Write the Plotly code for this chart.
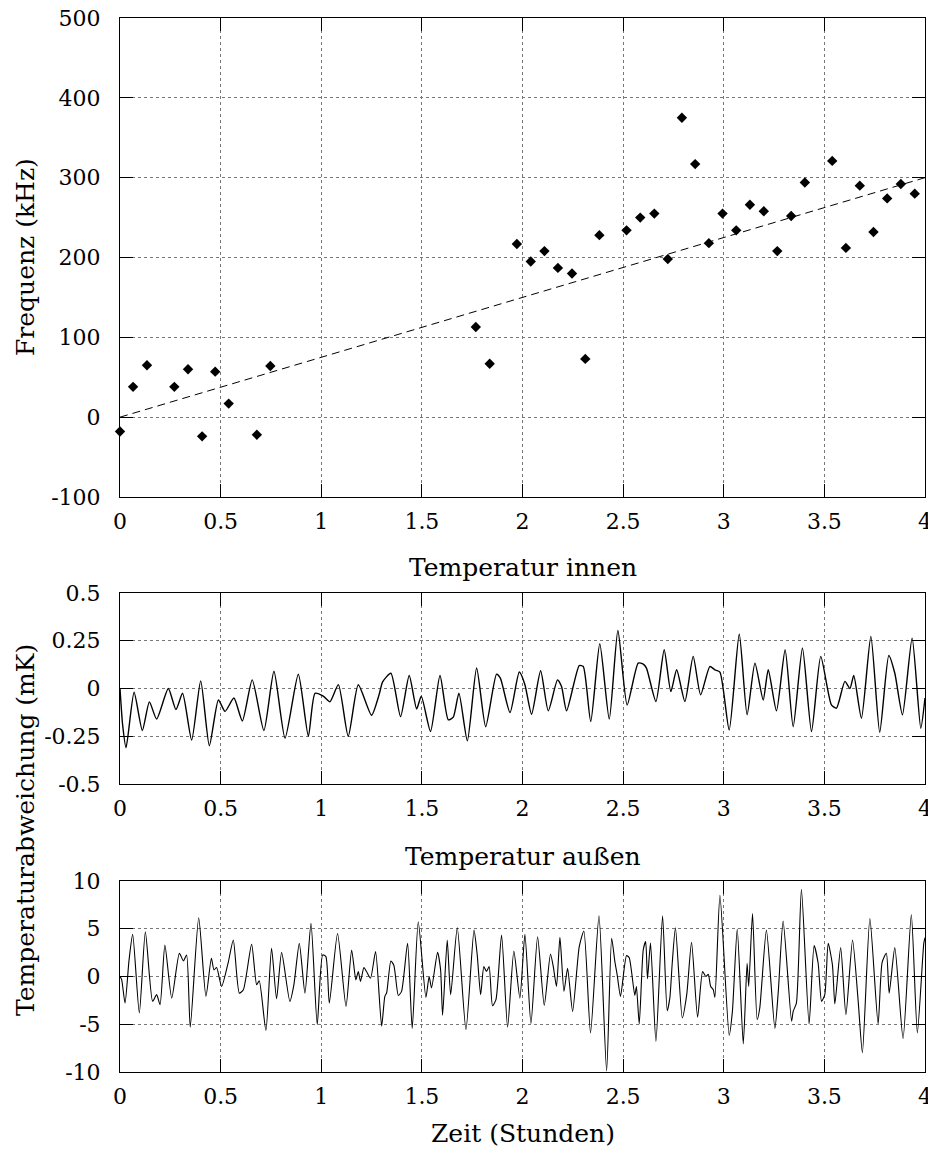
import plotly.graph_objects as go

# ---------------- data ----------------
# Top panel: frequency vs. time (scatter) and linear fit
scatter_t = [0.0, 0.065, 0.134, 0.270, 0.338, 0.408, 0.473, 0.540, 0.680, 0.747,
             1.768, 1.837, 1.972, 2.041, 2.109, 2.176, 2.246, 2.312, 2.382, 2.517,
             2.585, 2.655, 2.722, 2.792, 2.858, 2.926, 2.994, 3.062, 3.130, 3.199,
             3.266, 3.335, 3.403, 3.539, 3.607, 3.676, 3.744, 3.812, 3.880, 3.949]
scatter_f = [-18, 38, 65, 38, 60, -24, 57, 17, -22, 64,
             113, 67, 217, 195, 208, 187, 180, 73, 228, 234,
             250, 255, 198, 375, 317, 218, 255, 234, 266, 258,
             208, 252, 294, 321, 212, 290, 232, 274, 292, 280]
fit_t = [0.0, 4.0]
fit_f = [0.0, 300.0]

# Middle panel: inside temperature deviation (mK)
inner_t = [0.000, 0.013, 0.030, 0.070, 0.111, 0.146, 0.182, 0.240, 0.278, 0.311,
           0.356, 0.401, 0.444, 0.489, 0.522, 0.566, 0.608, 0.657, 0.715, 0.765,
           0.820, 0.886, 0.936, 0.969, 1.010, 1.043, 1.085, 1.134, 1.184, 1.250,
           1.288, 1.305, 1.346, 1.394, 1.437, 1.474, 1.497, 1.543, 1.590, 1.631,
           1.656, 1.684, 1.726, 1.772, 1.817, 1.871, 1.890, 1.938, 1.984, 2.012,
           2.045, 2.090, 2.128, 2.174, 2.194, 2.219, 2.282, 2.302, 2.339, 2.384,
           2.431, 2.474, 2.520, 2.575, 2.600, 2.616, 2.663, 2.704, 2.737, 2.766,
           2.807, 2.848, 2.885, 2.931, 2.956, 2.981, 3.027, 3.077, 3.116, 3.155,
           3.196, 3.221, 3.262, 3.305, 3.345, 3.391, 3.436, 3.482, 3.535, 3.560,
           3.602, 3.627, 3.646, 3.684, 3.731, 3.775, 3.820, 3.850, 3.888, 3.936,
           3.979, 4.000]
inner_v = [0.00, -0.19, -0.31, -0.02, -0.22, -0.07, -0.16, 0.00, -0.11, -0.025,
           -0.27, 0.04, -0.30, -0.06, -0.12, -0.05, -0.17, 0.045, -0.22, 0.09,
           -0.26, 0.075, -0.25, -0.025, -0.04, -0.07, 0.02, -0.25, 0.02, -0.14,
           -0.03, 0.035, 0.08, -0.147, 0.068, -0.107, -0.04, -0.225, 0.068, -0.164,
           -0.15, -0.024, -0.274, 0.107, -0.20, 0.075, 0.054, -0.126, 0.086, 0.02,
           -0.135, 0.093, -0.117, 0.045, 0.01, -0.117, 0.12, 0.115, -0.173, 0.234,
           -0.16, 0.304, -0.086, 0.133, 0.128, 0.107, -0.068, 0.203, -0.016, 0.098,
           -0.068, 0.168, -0.033, 0.115, 0.098, 0.086, -0.217, 0.285, -0.138, 0.133,
           -0.06, 0.098, -0.117, 0.203, -0.20, 0.212, -0.225, 0.168, -0.086, -0.103,
           0.037, 0.0, 0.068, -0.156, 0.273, -0.229, 0.173, 0.08, -0.138, 0.264,
           -0.208, -0.05]

# Bottom panel: outside temperature deviation (mK)
outer_t = [0.000, 0.008, 0.025, 0.045, 0.063, 0.096, 0.126, 0.162, 0.182, 0.199,
           0.223, 0.257, 0.295, 0.315, 0.331, 0.349, 0.391, 0.427, 0.454, 0.467,
           0.480, 0.505, 0.538, 0.563, 0.593, 0.613, 0.654, 0.679, 0.692, 0.725,
           0.753, 0.778, 0.803, 0.844, 0.864, 0.891, 0.919, 0.949, 0.980, 1.007,
           1.023, 1.040, 1.081, 1.123, 1.151, 1.172, 1.184, 1.195, 1.212, 1.225,
           1.245, 1.270, 1.300, 1.316, 1.325, 1.346, 1.361, 1.383, 1.399, 1.429,
           1.452, 1.482, 1.520, 1.536, 1.548, 1.578, 1.593, 1.603, 1.626, 1.643,
           1.676, 1.719, 1.759, 1.775, 1.792, 1.808, 1.821, 1.834, 1.851, 1.868,
           1.896, 1.926, 1.957, 1.987, 2.012, 2.042, 2.075, 2.108, 2.139, 2.153,
           2.169, 2.186, 2.206, 2.224, 2.249, 2.282, 2.305, 2.338, 2.380, 2.418,
           2.443, 2.459, 2.471, 2.487, 2.517, 2.530, 2.558, 2.566, 2.580, 2.600,
           2.612, 2.621, 2.636, 2.663, 2.696, 2.719, 2.732, 2.744, 2.760, 2.794,
           2.816, 2.840, 2.870, 2.895, 2.911, 2.923, 2.935, 2.948, 2.956, 2.981,
           3.027, 3.043, 3.067, 3.097, 3.116, 3.124, 3.143, 3.166, 3.179, 3.212,
           3.254, 3.271, 3.295, 3.337, 3.345, 3.361, 3.386, 3.424, 3.449, 3.469,
           3.486, 3.502, 3.519, 3.540, 3.552, 3.581, 3.607, 3.640, 3.668, 3.689,
           3.726, 3.767, 3.787, 3.808, 3.822, 3.850, 3.891, 3.932, 3.962, 3.994,
           4.000]
outer_v = [0.0, -0.3, -2.78, 1.74, 4.41, -3.82, 4.69, -2.6, -1.9, -2.95,
           3.3, -2.26, 2.43, 1.63, 2.26, -5.31, 6.15, -2.08, 1.91, 0.69,
           0.94, -1.04, 1.49, 3.82, -1.74, -1.39, 3.37, -0.87, -0.45, -5.66,
           2.95, -2.33, 2.53, -2.6, -0.87, 3.47, -1.74, 5.56, -5.03, 2.26,
           2.08, -2.78, 4.51, -3.13, 2.78, -0.35, 0.52, -0.52, 0.94, 0.52,
           -0.17, 2.6, -5.2, -2.08, -1.7, 1.63, 1.15, -1.98, -1.56, 3.47,
           -5.45, 5.73, -2.19, 0.0, -1.2, 2.53, 0.69, -4.06, 3.82, -1.9,
           5.1, -5.56, 4.86, 2.26, -1.9, 1.04, 0.52, 1.04, -3.06, -2.43,
           4.34, -5.31, 2.67, -2.26, 4.41, -4.93, 4.17, -3.02, 2.36, 1.04,
           -1.04, 4.1, -1.56, 0.87, -3.65, 3.13, 4.76, -5.9, 6.35, -9.9,
           3.99, 1.56, 0.1, -2.08, 2.19, 1.98, -1.98, -1.04, -4.97, 2.78,
           3.65, -0.24, 3.5, -6.8, 6.35, -3.58, -2.26, 1.39, 5.1, -4.34,
           -1.9, 3.58, -4.27, 0.52, 0.0, 0.24, -1.04, -1.39, -2.19, 8.5,
           -6.15, -3.65, 4.97, -7.05, 1.39, -1.04, 6.6, -4.51, -3.3, 4.86,
           -5.45, -1.56, 5.8, -4.69, -3.65, -2.78, 9.13, -4.97, 3.23, 1.39,
           -2.6, -1.9, 3.47, 1.22, -2.88, 3.02, -3.99, 3.82, -2.6, -7.99,
           6.08, -4.97, 1.49, 2.43, -1.74, 3.02, -6.49, 6.49, -5.9, 3.47,
           4.06]

# tick labels
x_ticks = [0, 0.5, 1, 1.5, 2, 2.5, 3, 3.5, 4]
x_labels = ["0", "0.5", "1", "1.5", "2", "2.5", "3", "3.5", "4"]
top_ticks = [-100, 0, 100, 200, 300, 400, 500]
top_labels = ["-100", "0", "100", "200", "300", "400", "500"]
mid_ticks = [-0.5, -0.25, 0, 0.25, 0.5]
mid_labels = ["-0.5", "-0.25", "0", "0.25", "0.5"]
bot_ticks = [-10, -5, 0, 5, 10]
bot_labels = ["-10", "-5", "0", "5", "10"]

# ---------------- figure ----------------
FONT = "DejaVu Serif"
fig = go.Figure()

fig.add_trace(go.Scatter(x=fit_t, y=fit_f, mode="lines",
                         line=dict(color="black", width=1, dash="8px,5px"),
                         xaxis="x", yaxis="y", showlegend=False))
fig.add_trace(go.Scatter(x=scatter_t, y=scatter_f, mode="markers",
                         marker=dict(symbol="diamond", size=8, color="black"),
                         cliponaxis=False, xaxis="x", yaxis="y", showlegend=False))
fig.add_trace(go.Scatter(x=inner_t, y=inner_v, mode="lines",
                         line=dict(color="black", width=1.4, shape="spline", smoothing=0.6),
                         xaxis="x2", yaxis="y2", showlegend=False))
fig.add_trace(go.Scatter(x=outer_t, y=outer_v, mode="lines",
                         line=dict(color="black", width=1.1, shape="spline", smoothing=0.6),
                         xaxis="x3", yaxis="y3", showlegend=False))

# page body has an 8px margin: size the figure so the plot lands at the target pixels
OFF = 8
W, H = 936 - OFF, 1149 - OFF
L = 120 - OFF
T = 18 - OFF
PLOT_W = 805
R = W - L - PLOT_W
BOTTOM_PX = 1072 - OFF
B = H - BOTTOM_PX
plot_h = H - T - B


def py(px_page):
    return (BOTTOM_PX - (px_page - OFF)) / plot_h


def dom(top_px, bot_px):
    return [py(bot_px), py(top_px)]


def px_x(px_page):
    return (px_page - 120) / PLOT_W


tickfont = dict(family=FONT, size=22, color="black")
common_axis = dict(showline=True, linecolor="black", linewidth=1, mirror="allticks",
                   ticks="inside", ticklen=13, tickcolor="black", tickwidth=1,
                   showgrid=True, gridcolor="#777", gridwidth=1, griddash="dot",
                   zeroline=False, tickfont=tickfont, automargin=False,
                   ticklabeloverflow="allow")

xcommon = dict(common_axis, range=[0, 4], tickvals=x_ticks, ticktext=x_labels,
               ticklabelstandoff=5)

fig.update_layout(
    width=W, height=H,
    margin=dict(l=L, r=R, t=T, b=B, autoexpand=False),
    paper_bgcolor="white", plot_bgcolor="white",
    font=dict(family=FONT, size=22, color="black"),
    xaxis=dict(xcommon, anchor="y"),
    yaxis=dict(common_axis, domain=dom(18, 497), range=[-100, 500],
               tickvals=top_ticks, ticktext=top_labels, anchor="x", ticklabelstandoff=14),
    xaxis2=dict(xcommon, anchor="y2"),
    yaxis2=dict(common_axis, domain=dom(593, 784), range=[-0.5, 0.5],
                tickvals=mid_ticks, ticktext=mid_labels, anchor="x2", ticklabelstandoff=14),
    xaxis3=dict(xcommon, anchor="y3"),
    yaxis3=dict(common_axis, domain=dom(881, 1072), range=[-10, 10],
                tickvals=bot_ticks, ticktext=bot_labels, anchor="x3", ticklabelstandoff=14),
)

ann_font = dict(family=FONT, size=25, color="black")
fig.add_annotation(text="Frequenz (kHz)", xref="paper", yref="paper",
                   x=px_x(25), y=py(257), textangle=-90, showarrow=False,
                   xanchor="center", yanchor="middle", font=ann_font)
fig.add_annotation(text="Temperaturabweichung (mK)", xref="paper", yref="paper",
                   x=px_x(25), y=py(830), textangle=-90, showarrow=False,
                   xanchor="center", yanchor="middle", font=ann_font)
fig.add_annotation(text="Temperatur innen", xref="paper", yref="paper",
                   x=0.5, y=py(567), showarrow=False, xanchor="center", yanchor="middle",
                   font=ann_font)
fig.add_annotation(text="Temperatur außen", xref="paper", yref="paper",
                   x=0.5, y=py(856), showarrow=False, xanchor="center", yanchor="middle",
                   font=ann_font)
fig.add_annotation(text="Zeit (Stunden)", xref="paper", yref="paper",
                   x=0.5, y=py(1133), showarrow=False, xanchor="center", yanchor="middle",
                   font=ann_font)

fig.write_html("out.html")
